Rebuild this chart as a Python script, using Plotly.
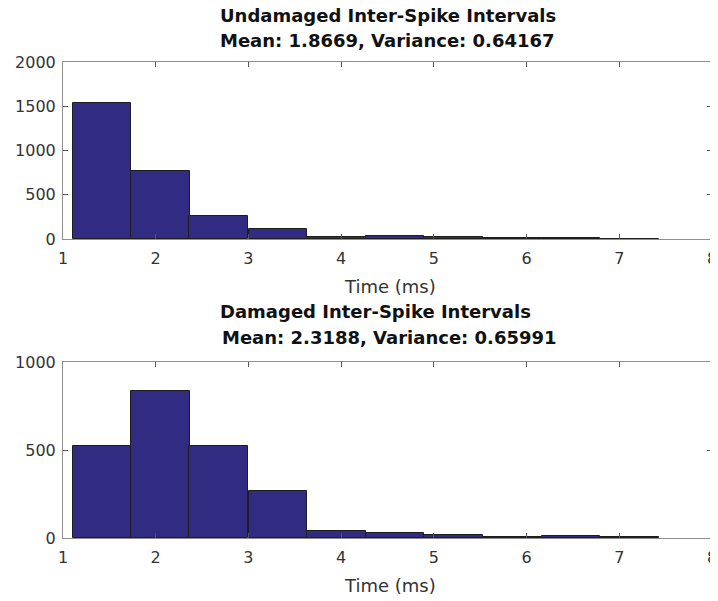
import plotly.graph_objects as go
from plotly.subplots import make_subplots

bin_centers = [1.42, 2.05, 2.68, 3.32, 3.95, 4.58, 5.21, 5.85, 6.48, 7.11]
bin_width = 0.632
undamaged_counts = [1541, 774, 259, 117, 22, 32, 18, 6, 7, 5]
damaged_counts = [523, 837, 521, 267, 38, 28, 19, 6, 9, 8]

title_lines_top = ["Undamaged Inter-Spike Intervals", "Mean: 1.8669, Variance: 0.64167"]
title_lines_bottom = ["Damaged Inter-Spike Intervals", "Mean: 2.3188, Variance: 0.65991"]
x_label = "Time (ms)"
x_ticks = [1, 2, 3, 4, 5, 6, 7, 8]
top_yticks = [0, 500, 1000, 1500, 2000]
bottom_yticks = [0, 500, 1000]

BAR = "#322b82"
FRAME = "#8f8f8f"
TXT = "#333333"
FONT = "DejaVu Sans, Verdana, sans-serif"
# the page body adds an 8px offset at top-left; the figure fills the rest of the window
OFF = 8
W, H = 718 - OFF, 601 - OFF

def px_x(p):
    return (p - OFF) / W

def px_y(p):
    return 1 - (p - OFF) / H

fig = make_subplots(rows=2, cols=1)
fig.add_trace(go.Bar(x=bin_centers, y=undamaged_counts, width=bin_width,
                     marker=dict(color=BAR, line=dict(color="#1e1e1e", width=1))), row=1, col=1)
fig.add_trace(go.Bar(x=bin_centers, y=damaged_counts, width=bin_width,
                     marker=dict(color=BAR, line=dict(color="#1e1e1e", width=1))), row=2, col=1)

axis_common = dict(showline=True, mirror="ticks", linecolor=FRAME, linewidth=1,
                   ticks="inside", ticklen=5, tickcolor="#555", showgrid=False,
                   zeroline=False, automargin=False, ticklabeloverflow="allow",
                   tickfont=dict(family=FONT, size=16, color=TXT))

fig.update_xaxes(range=[1, 8], tickvals=x_ticks, ticklabelstandoff=5, **axis_common)
fig.update_yaxes(ticklabelstandoff=3, **axis_common)
fig.update_yaxes(range=[0, 2000], tickvals=top_yticks, row=1, col=1)
fig.update_yaxes(range=[0, 1000], tickvals=bottom_yticks, row=2, col=1)

fig.update_layout(
    width=W, height=H,
    margin=dict(l=0, r=0, t=0, b=0),
    plot_bgcolor="white", paper_bgcolor="white",
    showlegend=False, bargap=0,
    xaxis=dict(domain=[px_x(63), px_x(712)]),
    xaxis2=dict(domain=[px_x(63), px_x(712)]),
    yaxis=dict(domain=[px_y(239), px_y(62)]),
    yaxis2=dict(domain=[px_y(538), px_y(362)]),
    font=dict(family=FONT, color=TXT),
)

title_font = dict(family=FONT, size=18, color="#111111")
for text, cx, cy in [
    (title_lines_top[0], 388.5, 15.5),
    (title_lines_top[1], 387.5, 40.5),
    (title_lines_bottom[0], 375.8, 311.8),
    (title_lines_bottom[1], 390, 337.8),
]:
    fig.add_annotation(text="<b>" + text + "</b>", xref="paper", yref="paper",
                       x=px_x(cx), y=px_y(cy), xanchor="center", yanchor="middle",
                       showarrow=False, font=title_font)

for cy in [286.3, 585]:
    fig.add_annotation(text=x_label, xref="paper", yref="paper",
                       x=px_x(390), y=px_y(cy), xanchor="center", yanchor="middle",
                       showarrow=False, font=dict(family=FONT, size=18, color=TXT))

fig.write_html("out.html")
